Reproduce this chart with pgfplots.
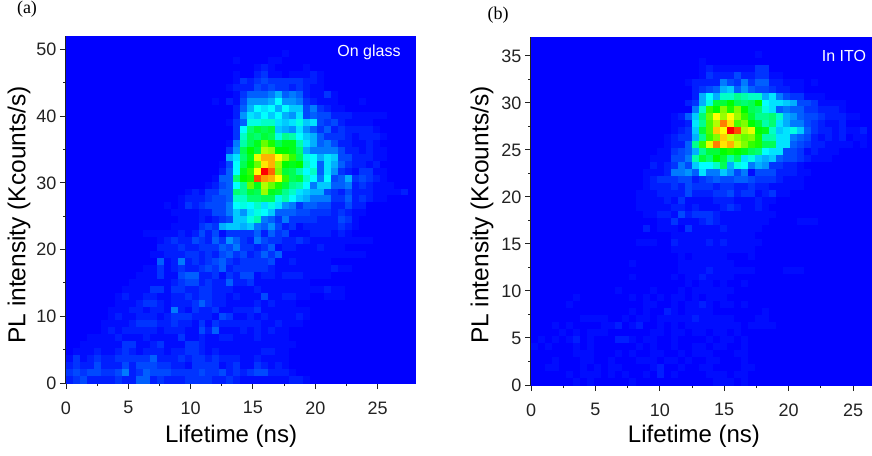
\documentclass[border=0pt]{standalone}
\usepackage{pgfplots}
\usepackage{pgfplotstable}
\usepackage{fontspec}
\setmainfont{Liberation Sans}
\newfontfamily\timesf{Liberation Serif}
\pgfplotsset{compat=1.18}
\pgfplotstableread[header=false]{
0 0 0 0 0 0 0 0 0 0  0 0 0 0 0 0 0 0 0 0  0 0 0 0 0 0 0 0 0 0  0 0 0 0 0 0 0 0 0 0  0 0 0 0 0 0 0 0 0 0
0 0 0 0 0 0 0 0 0 0  0 0 0 0 0 0 0 0 0 0  0 0 0 0 0 0 0 0 0 0  0 0 0 0 0 0 0 0 0 0  0 0 0 0 0 0 0 0 0 0
0 0 0 0 0 0 0 0 0 0  0 0 0 0 0 0 0 0 0 0  0 0 0 0 0 0 0 0 0 0  0 1 0 0 0 0 0 0 0 0  0 0 0 0 0 0 0 0 0 0
0 0 0 0 0 0 0 0 0 0  0 0 0 0 0 0 0 0 0 0  0 0 0 0 1 0 0 0 0 1  1 0 0 0 0 0 0 0 0 0  0 0 0 0 0 0 0 0 0 0
0 0 0 0 0 0 0 0 0 0  0 0 0 0 0 0 0 0 0 0  0 0 0 0 0 0 0 1 2 1  0 0 0 0 1 0 0 0 0 0  0 0 0 0 0 0 0 0 0 0
0 0 0 0 0 0 0 0 0 0  0 0 0 0 0 0 0 0 0 0  0 0 0 0 1 0 0 2 3 1  1 0 1 1 1 2 1 0 0 0  0 0 0 0 0 0 0 0 0 0
0 0 0 0 0 0 0 0 0 0  0 0 0 0 0 0 0 0 0 0  0 0 0 0 1 3 2 3 4 3  3 3 3 3 2 2 1 0 0 0  0 0 0 0 0 0 0 0 0 0
0 0 0 0 0 0 0 0 0 0  0 0 0 0 0 0 0 0 0 0  0 0 0 1 2 2 2 4 3 4  3 3 2 3 2 1 1 0 0 0  0 0 0 0 0 0 0 0 0 0
0 0 0 0 0 0 0 0 0 0  0 0 0 0 0 0 0 0 0 0  0 0 0 0 1 3 5 5 5 6  8 5 6 5 2 1 1 3 1 0  0 0 0 0 0 0 0 0 0 0
0 0 0 0 0 0 0 0 0 0  0 0 0 0 0 0 0 0 0 0  0 1 0 2 1 4 7 7 7 8  11 7 7 6 3 2 1 1 1 0  0 0 1 0 0 0 0 0 0 0
0 0 0 0 0 0 0 0 0 0  0 0 0 0 0 0 0 0 0 0  0 0 0 0 2 5 8 11 10 11  8 11 9 9 4 6 3 2 1 1  0 0 0 0 0 0 0 0 0 0
0 0 0 0 0 0 0 0 0 0  0 0 0 0 0 0 0 0 0 0  0 0 0 0 2 7 10 9 11 9  11 8 7 10 4 5 4 4 2 2  2 1 1 1 1 1 0 0 0 0
0 0 0 0 0 0 0 0 0 0  0 0 0 0 0 0 0 0 0 0  0 0 0 1 3 5 12 12 13 13  10 9 10 12 9 10 4 3 4 2  1 1 1 1 0 0 0 0 0 0
0 0 0 0 0 0 0 0 0 0  0 0 0 0 0 0 0 0 0 0  0 0 0 0 3 11 16 18 17 18  9 8 7 10 7 5 3 5 2 3  2 2 2 2 1 0 0 0 0 0
0 0 0 0 0 0 0 0 0 0  0 0 0 0 0 0 0 0 0 0  0 0 0 0 3 13 17 16 18 17  12 15 14 11 9 8 5 3 3 3  2 1 2 2 2 1 0 0 0 0
0 0 0 0 0 0 0 0 0 0  0 0 0 0 0 0 0 0 0 0  0 0 0 1 6 14 17 19 24 21  17 19 19 14 10 8 5 6 4 2  2 1 1 2 1 0 0 0 0 0
0 0 0 0 0 0 0 0 0 0  0 0 0 0 0 0 0 0 0 0  0 0 0 3 7 17 20 18 27 26  20 20 19 16 8 6 6 6 6 4  2 2 1 2 1 1 0 0 0 0
0 0 0 0 0 0 0 0 0 0  0 0 0 0 0 0 0 0 0 0  0 0 0 8 10 16 19 29 33 33  30 26 22 17 12 11 8 10 9 4  4 2 2 2 1 1 0 0 0 0
0 0 0 0 0 0 0 0 0 0  0 0 0 0 0 0 0 0 0 0  0 0 1 4 11 17 20 24 31 33  26 20 19 20 13 11 5 10 8 5  3 2 2 1 2 0 0 0 0 0
0 0 0 0 0 0 0 0 0 0  0 0 0 0 0 0 0 0 0 0  0 0 2 5 11 19 22 30 40 36  25 18 17 14 11 13 5 10 7 3  2 1 3 3 1 1 0 0 0 0
0 0 0 0 0 0 0 0 0 0  0 0 0 0 0 0 0 0 0 0  0 1 5 5 16 20 21 37 34 33  30 22 17 18 13 11 6 11 4 5  8 3 4 3 2 1 0 0 0 0
0 0 0 0 0 0 0 0 0 0  0 0 0 0 0 0 0 0 0 0  1 2 4 5 11 15 24 19 27 24  21 18 15 14 11 6 9 9 5 5  6 2 3 2 1 1 1 0 0 0
0 0 0 0 0 0 0 0 0 0  0 0 0 0 0 0 0 1 2 1  3 3 5 5 16 15 18 17 26 19  18 15 13 10 9 8 8 4 3 2  4 2 2 2 1 1 1 1 2 0
0 0 0 0 0 0 0 0 0 0  0 0 0 0 0 0 1 2 2 2  3 4 4 5 13 13 16 16 17 17  12 14 11 9 8 6 6 6 3 3  5 2 3 2 1 1 0 0 0 0
0 0 0 0 0 0 0 0 0 0  0 0 0 0 1 0 1 3 2 3  4 4 4 6 11 12 11 13 10 12  10 7 6 3 5 5 4 4 2 2  4 2 2 0 0 0 0 0 0 0
0 0 0 0 0 0 0 0 0 0  0 0 0 0 0 1 1 1 1 2  2 4 4 6 9 7 10 12 11 9  5 5 5 4 4 3 3 3 2 3  2 1 1 0 0 0 0 0 0 0
0 0 0 0 0 0 0 0 0 0  0 0 0 0 0 0 1 1 1 2  1 2 3 4 9 9 12 14 6 5  3 6 3 3 3 3 2 2 2 4  3 1 0 0 0 0 0 0 0 0
0 0 0 0 0 0 0 0 0 0  0 0 0 0 0 1 1 1 1 3  4 3 8 9 9 8 9 6 5 7  4 2 3 1 2 2 2 2 2 3  2 1 0 0 0 0 0 0 0 0
0 0 0 0 0 0 0 0 0 0  0 1 1 1 1 1 2 1 2 4  2 4 1 3 3 3 3 5 2 5  3 4 1 1 1 2 2 2 1 2  1 0 0 0 0 0 0 0 0 0
0 0 0 0 0 0 0 0 0 0  0 0 0 1 2 3 2 2 4 3  2 5 3 7 5 3 2 6 4 3  3 2 2 3 2 1 1 1 1 1  1 1 1 1 0 0 0 0 0 0
0 0 0 0 0 0 0 0 0 0  0 0 0 2 2 2 3 2 2 3  3 3 5 4 6 3 3 2 3 5  1 2 2 1 1 1 2 1 1 1  0 0 0 0 0 0 0 0 0 0
0 0 0 0 0 0 0 0 0 0  0 0 1 1 2 2 2 3 3 2  3 2 4 5 3 4 2 3 5 3  5 1 1 1 1 1 1 1 1 1  1 1 1 0 0 0 0 0 0 0
0 0 0 0 0 0 0 0 0 0  0 0 0 5 1 2 6 2 3 2  3 4 5 3 2 3 3 3 3 4  1 1 2 1 1 1 1 1 0 0  0 0 0 0 0 0 0 0 0 0
0 0 0 0 0 0 0 0 0 0  0 1 1 3 1 2 3 2 2 3  4 3 5 2 3 3 3 3 3 2  1 1 1 1 1 1 1 1 2 1  1 0 0 0 0 0 0 0 0 0
0 0 0 0 0 0 0 0 0 0  1 1 1 3 1 1 4 5 5 2  2 3 1 3 2 4 4 1 2 2  1 2 2 2 1 1 1 1 0 0  0 0 0 0 0 0 0 0 0 0
0 0 0 0 0 0 0 0 0 1  1 1 1 1 1 2 3 4 4 2  3 2 2 5 2 2 3 1 1 1  1 1 1 1 1 0 0 0 0 0  0 0 0 0 0 0 0 0 0 0
0 0 0 0 0 0 0 0 1 1  1 1 3 3 1 3 3 2 2 3  3 2 2 2 1 1 1 2 1 1  1 1 1 1 1 1 1 2 1 1  0 0 0 0 0 0 0 0 0 0
0 0 0 0 0 0 0 1 2 1  1 2 2 1 1 2 2 3 2 3  3 2 2 1 2 1 1 1 4 1  1 2 2 1 1 0 0 1 1 1  0 0 0 0 0 0 0 0 0 0
0 0 0 0 0 0 0 1 1 1  2 3 3 2 1 2 2 2 3 5  3 2 2 1 1 1 1 2 1 2  1 1 1 0 0 0 0 0 0 0  0 0 0 0 0 0 0 0 0 0
0 0 0 0 0 0 1 1 1 2  2 1 2 2 1 6 2 1 3 2  2 3 1 1 2 2 2 3 1 1  1 1 1 1 1 0 0 0 0 0  0 0 0 0 0 0 0 0 0 0
0 0 0 0 0 0 1 2 1 1  2 2 2 1 2 3 3 3 2 2  2 1 4 3 1 1 2 1 2 1  1 1 1 2 1 0 0 0 0 0  0 0 0 0 0 0 0 0 0 0
0 0 0 0 0 1 1 1 1 2  3 3 3 2 2 3 2 2 1 3  1 3 2 2 2 2 2 2 1 1  2 1 1 1 0 0 0 0 0 0  0 0 0 0 0 0 0 0 0 0
0 0 0 0 0 1 2 1 2 2  2 2 2 1 2 2 2 1 1 4  2 5 1 1 1 2 1 2 1 2  1 1 0 0 0 0 0 0 0 0  0 0 0 0 0 0 0 0 0 0
0 0 0 1 1 1 1 2 1 1  1 2 1 1 1 1 3 1 1 2  1 1 2 2 1 1 1 2 1 1  1 1 0 0 0 0 0 0 0 0  0 0 0 0 0 0 0 0 0 0
0 0 1 1 1 1 1 1 3 3  1 1 2 3 1 1 1 3 3 2  1 1 1 1 1 1 1 1 1 1  1 1 1 0 0 0 0 0 0 0  0 0 0 0 0 0 0 0 0 0
0 1 1 1 2 1 1 2 3 2  1 2 2 2 1 2 2 3 3 2  1 2 1 1 1 1 1 1 2 2  1 1 0 0 0 0 0 0 0 0  0 0 0 0 0 0 0 0 0 0
1 3 1 2 3 2 2 3 3 3  3 3 5 2 2 2 3 2 3 3  2 3 2 2 2 1 1 2 1 1  1 1 0 0 0 0 0 0 0 0  0 0 0 0 0 0 0 0 0 0
2 3 2 2 4 2 2 2 4 2  4 4 4 3 3 2 2 1 3 3  3 3 1 2 3 1 1 3 2 1  2 1 0 0 0 0 0 0 0 0  0 0 0 0 0 0 0 0 0 0
3 4 3 4 4 3 3 4 6 2  3 5 4 4 4 3 3 3 3 4  3 3 4 2 3 2 3 4 4 2  2 2 1 0 0 0 0 0 0 0  0 0 0 0 0 0 0 0 0 0
2 3 4 2 2 2 2 3 2 2  5 5 2 3 2 2 2 3 3 3  3 2 2 3 2 1 1 1 1 1  1 1 2 2 1 0 0 0 0 0  0 0 0 0 0 0 0 0 0 0
}\dataA
\pgfplotstableread[header=false]{
0 0 0 0 0 0 0 0 0 0  0 0 0 0 0 0 0 0 0 0  0 0 0 0 0 0 0 0 0 0  0 0 0 0 0 0 0 0 0 0  0 0 0 0 0 0 0 0 0 0
0 0 0 0 0 0 0 0 0 0  0 0 0 0 0 0 0 0 0 0  0 0 0 0 0 0 0 0 0 0  0 0 0 0 0 0 0 0 0 0  0 0 0 0 0 0 0 0 0 0
0 0 0 0 0 0 0 0 0 0  0 0 0 0 0 0 0 0 0 0  0 0 0 0 0 0 0 0 0 0  0 0 1 0 0 0 0 0 0 0  0 0 0 0 0 0 0 0 0 0
0 0 0 0 0 0 0 0 0 0  0 0 0 0 0 0 0 0 0 0  0 0 0 0 1 0 0 0 0 0  0 0 0 0 0 0 0 0 0 0  0 0 0 0 0 0 0 0 0 0
0 0 0 0 0 0 0 0 0 0  0 0 0 0 0 0 0 0 0 0  0 0 0 0 1 2 1 1 1 1  1 1 3 3 0 0 0 0 0 0  0 0 0 0 0 0 0 0 0 0
0 0 0 0 0 0 0 0 0 0  0 0 0 0 0 0 0 0 0 0  0 0 0 0 1 3 2 2 2 4  2 2 3 3 1 1 0 0 0 0  0 0 0 0 0 0 0 0 0 0
0 0 0 0 0 0 0 0 0 0  0 0 0 0 0 0 0 0 0 0  0 0 1 2 2 2 2 6 4 3  6 3 5 5 2 2 1 1 1 0  1 0 0 0 0 0 0 0 0 0
0 0 0 0 0 0 0 0 0 0  0 0 0 0 0 0 0 0 0 0  0 0 0 2 3 4 5 8 9 5  7 5 4 4 3 2 2 1 1 0  0 0 0 0 0 0 0 0 0 0
0 0 0 0 0 0 0 0 0 0  0 0 0 0 0 0 0 0 0 0  0 0 0 2 8 11 8 13 13 15  14 13 13 8 10 6 4 3 3 1  1 1 0 0 0 0 0 0 0 0
0 0 0 0 0 0 0 0 0 0  0 0 0 0 0 0 0 0 0 0  0 0 2 3 8 12 18 18 20 17  16 17 20 11 10 10 9 8 4 4  3 1 1 1 1 0 0 0 0 0
0 0 0 0 0 0 0 0 0 0  0 0 0 0 0 0 0 0 0 0  0 0 0 6 13 22 20 25 21 25  20 17 16 12 10 5 6 5 5 3  3 2 2 2 1 0 0 0 0 0
0 0 0 0 0 0 0 0 0 0  0 0 0 0 0 0 0 0 0 0  1 2 5 9 16 24 30 26 30 26  22 18 15 15 16 13 8 7 5 4  4 3 2 2 2 1 1 0 0 0
0 0 0 0 0 0 0 0 0 0  0 0 0 0 0 0 0 0 0 0  1 1 2 10 15 23 27 35 31 23  25 20 18 14 16 10 8 6 6 4  3 2 1 1 2 0 0 0 0 0
0 0 0 0 0 0 0 0 0 0  0 0 0 0 0 0 0 0 0 0  1 2 3 9 18 23 32 30 40 37  27 29 20 19 13 9 10 12 9 5  3 2 2 1 2 1 1 2 0 0
0 0 0 0 0 0 0 0 0 0  0 0 0 0 0 0 0 0 0 1  2 3 3 8 15 22 25 32 28 26  24 25 21 14 14 10 10 6 5 4  2 1 2 1 2 0 1 1 0 0
0 0 0 0 0 0 0 0 0 0  0 0 0 0 0 0 0 0 0 1  2 2 5 15 22 29 35 31 33 28  25 22 21 17 17 10 10 5 4 3  2 2 1 1 1 1 0 1 0 0
0 0 0 0 0 0 0 0 0 0  0 0 0 0 0 0 0 0 1 1  3 4 5 8 15 18 18 20 21 20  19 17 16 11 10 10 4 4 3 1  2 1 1 1 0 0 0 0 0 0
0 0 0 0 0 0 0 0 0 0  0 0 0 0 0 0 0 1 1 1  4 4 6 14 18 16 20 18 14 17  10 12 9 8 9 5 4 4 3 2  1 1 1 0 0 0 0 0 0 0
0 0 0 0 0 0 0 0 0 0  0 0 0 0 0 0 0 2 1 2  3 6 4 9 11 11 13 17 8 12  11 6 8 7 3 3 2 2 1 0  0 0 0 0 0 0 0 0 0 0
0 0 0 0 0 0 0 0 0 0  0 0 0 0 0 0 1 1 1 2  6 6 7 5 10 6 6 9 7 4  6 1 4 4 4 2 2 2 1 1  0 0 0 0 0 0 0 0 0 0
0 0 0 0 0 0 0 0 0 0  0 0 0 0 0 0 1 2 3 3  3 4 4 2 3 4 5 4 4 5  5 4 3 3 3 2 1 1 1 0  0 0 0 0 0 0 0 0 0 0
0 0 0 0 0 0 0 0 0 0  0 0 0 0 0 0 1 2 2 2  3 2 4 3 3 3 2 3 3 2  2 3 2 2 1 1 1 1 1 0  0 0 0 0 0 0 0 0 0 0
0 0 0 0 0 0 0 0 0 0  0 0 0 0 0 1 1 1 2 2  2 2 4 2 2 2 3 3 4 2  3 3 1 2 3 1 1 0 0 0  0 0 0 0 0 0 0 0 0 0
0 0 0 0 0 0 0 0 0 0  0 0 0 0 0 1 1 1 1 2  1 3 1 1 1 1 2 2 2 1  1 1 2 1 1 0 0 0 0 0  0 0 0 0 0 0 0 0 0 0
0 0 0 0 0 0 0 0 0 0  0 0 0 0 0 1 1 1 1 1  2 2 1 2 1 1 1 2 3 2  1 1 2 1 0 0 0 0 0 0  0 0 0 0 0 0 0 0 0 0
0 0 0 0 0 0 0 0 0 0  0 0 0 0 0 0 1 1 2 2  1 4 2 3 3 3 2 1 1 1  1 1 1 1 1 0 0 0 0 0  0 0 0 0 0 0 0 0 0 0
0 0 0 0 0 0 0 0 0 0  0 0 0 0 0 0 0 0 1 1  3 1 1 1 2 3 2 1 1 1  1 1 1 1 0 0 0 0 1 1  1 0 0 0 0 0 0 0 0 0
0 0 0 0 0 0 0 0 0 0  0 0 0 0 0 0 2 0 1 1  1 0 3 1 1 1 1 2 1 1  1 1 1 0 0 0 0 0 0 0  0 0 0 0 0 0 0 0 0 0
0 0 0 0 0 0 0 0 0 0  0 0 0 0 0 0 0 0 0 0  1 1 1 1 1 1 1 1 1 1  1 1 0 0 0 0 0 0 0 0  0 0 0 0 0 0 0 0 0 0
0 0 0 0 0 0 0 0 0 0  0 0 0 0 0 1 1 1 0 0  2 1 1 1 1 2 1 2 1 1  1 1 1 0 0 0 0 0 0 0  0 0 0 0 0 0 0 0 0 0
0 0 0 0 0 0 0 0 0 0  0 0 0 0 0 0 0 0 0 0  1 1 1 1 1 1 1 1 1 1  1 1 0 0 0 0 0 0 0 0  0 0 0 0 0 0 0 0 0 0
0 0 0 0 0 0 0 0 0 0  0 0 0 0 0 0 0 0 0 0  0 1 0 1 1 1 1 1 0 0  0 1 0 0 0 0 0 0 0 0  0 0 0 0 0 0 0 0 0 0
0 0 0 0 0 0 0 0 0 0  0 0 0 0 1 0 0 0 0 0  0 1 1 1 1 1 1 1 1 0  0 0 0 0 0 0 0 0 0 0  0 0 0 0 0 0 0 0 0 0
0 0 0 0 0 0 0 0 0 0  0 0 0 0 0 0 0 0 0 0  0 1 1 1 1 2 1 1 1 1  1 1 0 0 0 0 1 1 1 0  0 0 0 0 0 0 0 0 0 0
0 0 0 0 0 0 0 0 0 0  0 0 0 0 1 0 0 0 0 0  1 0 1 1 2 1 1 1 1 0  0 0 0 0 0 0 0 0 0 0  0 0 0 0 0 0 0 0 0 0
0 0 0 0 0 0 0 0 0 0  0 0 0 0 0 0 0 0 0 0  0 0 1 0 1 1 0 1 0 0  1 0 0 0 0 0 0 0 0 0  0 0 0 0 0 0 0 0 0 0
0 0 0 0 0 0 0 0 0 0  0 0 1 0 0 0 0 1 0 0  0 1 0 1 1 1 1 1 1 0  0 0 0 0 0 0 0 0 0 0  0 0 0 0 0 0 0 0 0 0
0 0 0 0 0 0 1 0 0 0  0 0 0 0 1 0 1 0 1 0  1 1 0 1 0 1 1 1 0 0  0 0 0 0 0 0 0 0 0 0  0 0 0 0 0 0 0 0 0 0
0 0 0 0 0 1 0 0 0 0  0 0 0 0 0 0 1 1 0 0  1 0 1 1 2 1 0 1 1 0  1 0 0 0 0 0 0 0 0 0  0 0 0 0 0 0 0 0 0 0
0 0 0 0 0 0 0 0 0 0  0 0 0 0 1 0 1 0 0 2  1 0 1 1 1 1 0 0 0 0  0 0 0 1 0 0 0 0 0 0  0 0 0 0 0 0 0 0 0 0
0 0 0 0 0 0 0 1 1 1  1 0 0 1 0 1 1 0 1 1  1 1 1 2 1 1 1 1 1 0  0 0 1 1 0 0 0 0 0 0  0 0 0 0 0 0 0 0 0 0
0 0 0 1 0 1 0 0 0 0  1 1 2 0 1 2 0 0 1 0  1 0 1 1 1 1 1 1 1 1  0 1 1 1 1 0 0 0 0 0  0 0 0 0 0 0 0 0 0 0
0 0 0 0 1 0 1 0 1 1  1 0 0 0 0 0 0 1 1 0  1 1 0 1 1 0 1 1 0 1  0 0 0 0 0 0 0 0 0 0  0 0 0 0 0 0 0 0 0 0
0 1 0 1 0 1 2 0 1 0  0 0 2 2 1 0 1 1 0 0  1 0 0 0 0 1 0 1 1 0  1 0 0 0 0 0 0 0 0 0  0 0 0 0 0 0 0 0 0 0
1 0 1 0 0 0 1 0 1 0  0 0 0 0 0 1 0 1 0 0  1 0 0 1 1 0 1 1 0 0  1 0 0 0 0 0 0 0 0 0  0 0 0 0 0 0 0 0 0 0
0 0 0 0 0 0 1 1 1 0  0 0 1 0 1 0 0 1 1 0  0 1 0 1 1 1 0 0 0 1  1 0 0 0 0 0 0 0 0 0  0 0 0 0 0 0 0 0 0 0
0 0 0 1 0 0 0 1 1 0  0 1 0 0 0 1 1 1 0 1  1 0 1 0 0 1 1 0 0 0  1 0 0 0 0 0 0 0 0 0  0 0 0 0 0 0 0 0 0 0
0 0 1 1 0 0 0 1 0 1  0 1 1 0 0 0 0 1 2 0  0 1 0 0 1 1 0 0 0 0  1 1 0 0 0 0 0 0 0 0  0 0 0 0 0 0 0 0 0 0
0 0 0 0 0 1 0 1 1 1  0 1 0 1 0 0 1 0 2 0  1 0 0 0 0 1 1 1 0 1  1 0 0 0 0 0 0 0 0 0  0 0 0 0 0 0 0 0 0 0
0 0 0 0 0 0 1 0 1 0  0 0 0 0 1 0 0 0 0 0  0 0 0 0 0 0 1 1 1 0  1 0 0 0 0 0 0 0 0 0  0 0 0 0 0 0 0 0 0 0
}\dataB
\definecolor{inkc}{HTML}{222222}
\pgfplotsset{
  colormap={heat}{rgb255(0pt)=(0,0,255); rgb255(1pt)=(0,12,255); rgb255(2pt)=(0,30,255); rgb255(5pt)=(0,95,255); rgb255(11pt)=(0,255,255); rgb255(20pt)=(0,255,0); rgb255(30pt)=(255,255,0); rgb255(40pt)=(255,0,0)},
  heat/.style={
    scale only axis,
    axis x line*=bottom, axis y line*=left,
    axis line style={-,line width=1.2pt,color=inkc},
    axis background/.style={fill={rgb,255:red,0;green,0;blue,255}},
    colormap name=heat,
    point meta min=0, point meta max=40,
    clip mode=global,
    tick align=outside,
    major tick length=6pt, minor tick length=3pt,
    tick style={line width=1pt,color=inkc},
    minor tick num=1,
    /pgf/number format/assume math mode=true,
    tick label style={font=\fontsize{18}{20}\selectfont,text=inkc},
    xticklabel style={yshift=-9pt},
    xtick={0,5,...,25},
    xlabel={\fontsize{24}{27}\selectfont Lifetime (ns)},
    ylabel={\fontsize{24.5}{27}\selectfont PL intensity (Kcounts/s)},
    cell/.style={scatter, only marks, mark=square*, mark size=3.55pt,
      scatter/use mapped color={draw=mapped color,fill=mapped color},
      mark options={line width=0.1pt}, point meta=explicit},
  }
}
\begin{document}
\begin{tikzpicture}[x=1pt,y=1pt]
\useasboundingbox (0,0) rectangle (872,455);
\begin{axis}[heat, at={(66pt,72pt)}, anchor=south west,
  width=349pt, height=347pt,
  xmin=0, xmax=28, ymin=0, ymax=52,
  ytick={0,10,...,50},
  every axis x label/.style={at={(axis description cs:0.473,0)},yshift=-53pt,anchor=center},
  every axis y label/.style={at={(axis description cs:0,0.484)},xshift=-47pt,rotate=90,anchor=center}]
\pgfplotsinvokeforeach{0,...,49}{
  \addplot[cell] table[x expr={(#1+0.5)*0.56}, y expr={(49-\coordindex+0.5)*1.04}, meta index=#1] {\dataA};
}
\end{axis}
\begin{axis}[heat, at={(531pt,70pt)}, anchor=south west,
  width=341pt, height=348pt,
  xmin=0, xmax=26.47, ymin=0, ymax=37,
  ytick={0,5,...,35},
  every axis x label/.style={at={(axis description cs:0.478,0)},yshift=-51pt,anchor=center},
  every axis y label/.style={at={(axis description cs:0,0.488)},xshift=-49pt,rotate=90,anchor=center}]
\pgfplotsinvokeforeach{0,...,49}{
  \addplot[cell] table[x expr={(#1+0.5)*0.543}, y expr={(49-\coordindex+0.5)*0.74}, meta index=#1] {\dataB};
}
\end{axis}
\node[text=white,font=\fontsize{16}{18}\selectfont] at (369,403) {On glass};
\node[text=white,font=\fontsize{16}{18}\selectfont] at (844,399) {In ITO};
\node[font=\timesf\fontsize{18}{20}\selectfont,inner sep=0pt] at (27,446) {(a)};
\node[font=\timesf\fontsize{18}{20}\selectfont,inner sep=0pt] at (498,440) {(b)};
\end{tikzpicture}
\end{document}
